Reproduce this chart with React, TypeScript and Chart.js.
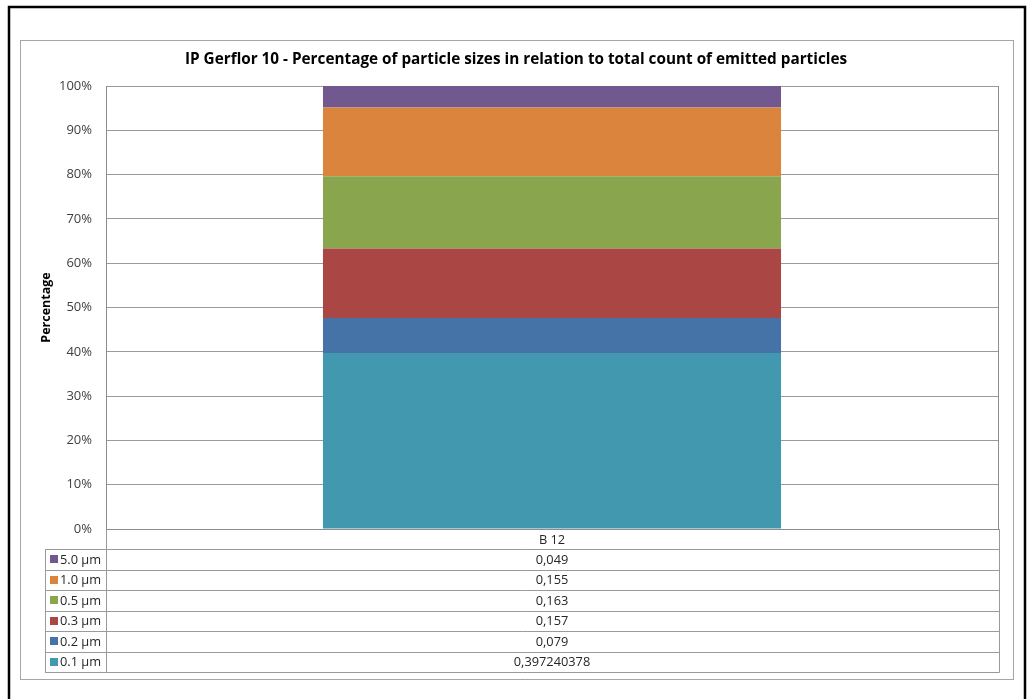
import React, { useEffect, useRef } from 'react';
import { Chart, registerables } from 'chart.js';

Chart.register(...registerables);

const titleText = 'IP Gerflor 10 - Percentage of particle sizes in relation to total count of emitted particles';
const yAxisTitle = 'Percentage';
const categories = ['B 12'];
// series, bottom to top of the stack
const seriesLabels = ['0.1 µm', '0.2 µm', '0.3 µm', '0.5 µm', '1.0 µm', '5.0 µm'];
const s01 = [0.397240378];
const s02 = [0.079];
const s03 = [0.157];
const s05 = [0.163];
const s10 = [0.155];
const s50 = [0.049];
const seriesValues = [s01, s02, s03, s05, s10, s50];
const seriesColors = ['#4198AF', '#4572A7', '#AA4643', '#89A54E', '#DB843D', '#71588F'];
const yTicks = [0, 0.1, 0.2, 0.3, 0.4, 0.5, 0.6, 0.7, 0.8, 0.9, 1];

const FONT = '"Open Sans", "DejaVu Sans", sans-serif';

const framePlugin = {
  id: 'frame',
  beforeDraw(chart: any) {
    const ctx = chart.ctx;
    ctx.save();
    ctx.fillStyle = '#ffffff';
    ctx.fillRect(0, 0, chart.width, chart.height);
    // outer black frame
    ctx.strokeStyle = '#000000';
    ctx.lineWidth = 2.5;
    ctx.beginPath();
    ctx.moveTo(9, chart.height + 5);
    ctx.lineTo(9, 7);
    ctx.lineTo(1025, 7);
    ctx.lineTo(1025, chart.height + 5);
    ctx.stroke();
    // chart-area gray frame
    ctx.strokeStyle = '#a6a6a6';
    ctx.lineWidth = 1;
    ctx.strokeRect(20.5, 40.5, 993, 639);
    ctx.restore();
  },
  afterDraw(chart: any) {
    const ctx = chart.ctx;
    const area = chart.chartArea;
    const xs = chart.scales.x;
    ctx.save();
    // title
    ctx.fillStyle = '#000000';
    ctx.font = `bold 15.3px ${FONT}`;
    ctx.textAlign = 'center';
    ctx.textBaseline = 'middle';
    ctx.fillText(titleText, 516, 60);

    // right border of plot area
    ctx.strokeStyle = '#8c8c8c';
    ctx.lineWidth = 1;
    ctx.beginPath();
    ctx.moveTo(Math.round(area.right) + 0.5, area.top);
    ctx.lineTo(Math.round(area.right) + 0.5, area.bottom);
    ctx.stroke();

    // data table
    const top = area.bottom;
    const headerH = 20;
    const rowH = 20.5;
    const nRows = seriesLabels.length;
    const tableLeft = 45;
    const tableRight = Math.round(area.right) + 1;
    const colX = Math.round(area.left);
    const tableBottom = top + headerH + nRows * rowH;
    ctx.strokeStyle = '#9a9a9a';
    ctx.lineWidth = 1;
    ctx.beginPath();
    for (let i = 0; i <= nRows; i++) {
      const y = Math.round(top + headerH + i * rowH) + 0.5;
      ctx.moveTo(tableLeft, y);
      ctx.lineTo(tableRight + 0.5, y);
    }
    ctx.moveTo(tableLeft + 0.5, Math.round(top + headerH));
    ctx.lineTo(tableLeft + 0.5, Math.round(tableBottom) + 0.5);
    ctx.moveTo(colX + 0.5, top);
    ctx.lineTo(colX + 0.5, Math.round(tableBottom) + 0.5);
    ctx.moveTo(tableRight + 0.5, top);
    ctx.lineTo(tableRight + 0.5, Math.round(tableBottom) + 0.5);
    ctx.stroke();

    ctx.font = `12.8px ${FONT}`;
    ctx.fillStyle = '#262626';
    ctx.textBaseline = 'middle';
    ctx.textAlign = 'center';
    const cx = xs.getPixelForValue(0);
    ctx.fillText(categories[0], cx, top + headerH / 2 + 1);
    for (let r = 0; r < nRows; r++) {
      const si = nRows - 1 - r;
      const yc = top + headerH + r * rowH + rowH / 2 + 1;
      // legend key
      ctx.fillStyle = seriesColors[si];
      ctx.fillRect(50, Math.round(yc - 5), 8, 8);
      ctx.fillStyle = '#262626';
      ctx.textAlign = 'left';
      ctx.fillText(seriesLabels[si], 60, yc);
      ctx.textAlign = 'center';
      ctx.fillText(String(seriesValues[si][0]).replace('.', ','), cx, yc);
    }
    ctx.restore();
  },
};

export default function App() {
  const ref = useRef<HTMLCanvasElement | null>(null);
  useEffect(() => {
    if (!ref.current) return;
    const chart = new Chart(ref.current, {
      type: 'bar',
      data: {
        labels: categories,
        datasets: seriesLabels.map((label, i) => ({
          label,
          data: seriesValues[i],
          backgroundColor: seriesColors[i],
          borderWidth: 0,
          categoryPercentage: 1,
          barPercentage: 0.5135,
        })),
      },
      options: {
        responsive: false,
        animation: false,
        devicePixelRatio: 1,
        layout: { padding: { top: 86, left: 20, right: 29, bottom: 170 } },
        plugins: {
          legend: { display: false },
          title: { display: false },
          tooltip: { enabled: false },
        },
        scales: {
          x: {
            stacked: true,
            ticks: { display: false },
            grid: { display: false, drawTicks: false },
            border: { display: true, color: '#8c8c8c', width: 1 },
            afterFit: (s: any) => {
              s.height = 0;
            },
          },
          y: {
            stacked: true,
            min: 0,
            max: 1,
            afterBuildTicks: (s: any) => {
              s.ticks = yTicks.map((v) => ({ value: v }));
            },
            ticks: {
              padding: 14,
              color: '#404040',
              font: { family: FONT, size: 13 },
              callback: (v: any) => `${Math.round(Number(v) * 100)}%`,
            },
            grid: { color: '#9a9a9a', lineWidth: 1, drawTicks: false },
            border: { display: true, color: '#8c8c8c', width: 1 },
            title: {
              display: true,
              text: yAxisTitle,
              color: '#000000',
              font: { family: FONT, size: 12.5, weight: 'bold' },
              padding: { top: 19, bottom: 0 },
            },
            afterFit: (s: any) => {
              s.width = 86;
            },
          },
        },
      },
      plugins: [framePlugin],
    });
    return () => chart.destroy();
  }, []);
  return (
    <div style={{ position: 'absolute', left: 0, top: 0, width: 1027, height: 699 }}>
      <canvas ref={ref} width={1027} height={699} style={{ display: 'block' }} />
    </div>
  );
}
